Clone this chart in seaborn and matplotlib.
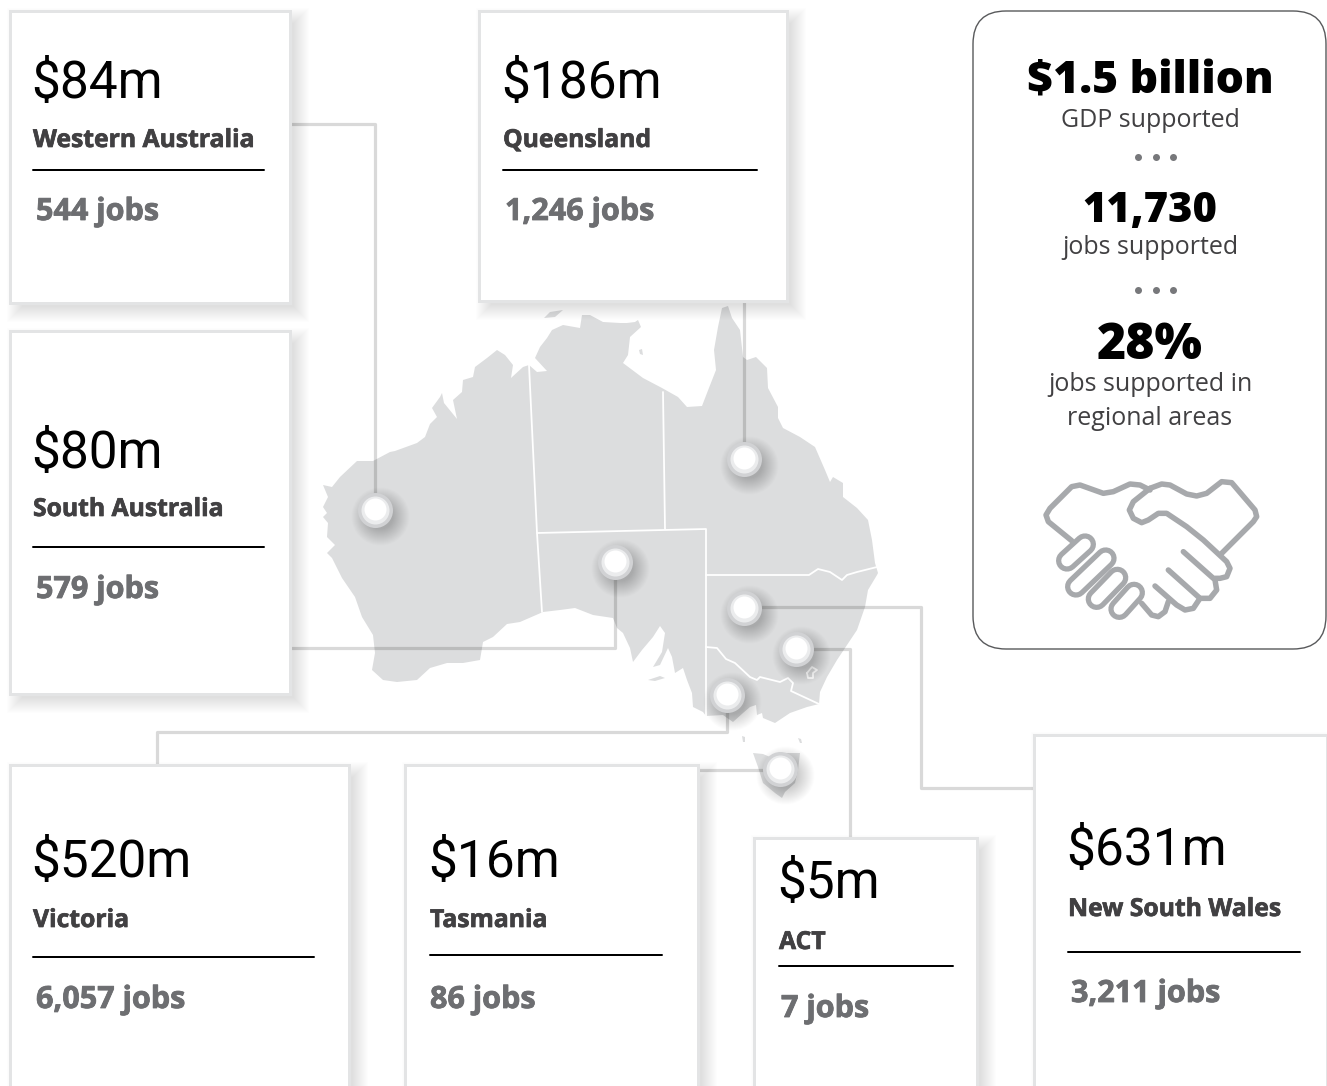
import numpy as np
import pandas as pd
import seaborn as sns
import matplotlib.pyplot as plt
import matplotlib.patheffects as pe
from matplotlib.patches import Rectangle, FancyBboxPatch

# Regional figures
regions = ["Western Australia", "Queensland", "South Australia", "Victoria", "Tasmania", "ACT", "New South Wales"]
gdp_labels = ["$84m", "$186m", "$80m", "$520m", "$16m", "$5m", "$631m"]
job_labels = ["544 jobs", "1,246 jobs", "579 jobs", "6,057 jobs", "86 jobs", "7 jobs", "3,211 jobs"]

# Card boxes (left, top, right, bottom)
card_left = [10, 479, 10, 10, 405, 754, 1034]
card_top = [11, 11, 331, 765, 765, 838, 735]
card_right = [290, 787, 290, 349, 698, 977, 1327]
card_bottom = [303, 301, 694, 1100, 1100, 1100, 1100]

# Text anchors inside the cards
text_x = [31, 501, 31, 31, 428, 777, 1066]
label_x = [33, 503, 33, 33, 430, 779, 1068]
jobs_x = [36, 505, 36, 36, 430, 781, 1071]
gdp_y = [98, 98, 468, 877, 877, 898, 865]
label_y = [147, 147, 516, 927, 927, 949, 916]
rule_y = [170, 170, 547, 957, 955, 966, 952]
rule_end = [264, 757, 264, 314, 662, 953, 1300]
jobs_y = [220, 220, 598, 1008, 1008, 1017, 1002]

# Pins on the map
pin_x = [375, 744, 615, 727, 780, 796, 744]
pin_y = [510, 459, 562, 695, 769, 649, 608]

# Connector routes
link_x = [[291, 375, 375], [744, 744], [290, 615, 615], [727, 727, 157, 157], [779, 698],
          [796, 850, 850], [744, 921, 921, 1033]]
link_y = [[124, 124, 510], [302, 459], [648, 648, 562], [695, 732, 732, 765], [770, 770],
          [649, 649, 838], [607, 607, 788, 788]]

# Summary panel
head_text = ["$1.5 billion", "11,730", "28%"]
head_y = [93, 222, 359]
head_size = [32, 30, 36]
sub_text = ["GDP supported", "jobs supported", "jobs supported in", "regional areas"]
sub_y = [127, 254, 391, 425]
dot_x = [1138, 1156, 1173]
dot_y = [157, 290]

# Map outline
main_x = [332, 340, 357, 373, 390, 395, 417, 425, 430, 437, 432, 440, 442, 444, 457, 453, 462, 463, 473, 475, 487, 497,
          505, 513, 511, 523, 529, 537, 547, 535, 540, 547, 552, 563, 580, 582, 590, 603, 620, 627, 635, 638, 641, 630,
          628, 623, 643, 662, 678, 687, 702, 707, 716, 714, 718, 722, 728, 732, 740, 743, 747, 756, 767, 768, 778, 778,
          783, 800, 815, 825, 830, 833, 843, 843, 857, 868, 872, 875, 878, 877, 868, 865, 857, 847, 837, 827, 820, 819,
          807, 790, 775, 763, 762, 757, 756, 750, 743, 733, 723, 706, 703, 693, 692, 687, 683, 675, 672, 668, 660, 653,
          662, 665, 660, 653, 642, 633, 630, 623, 617, 613, 593, 575, 560, 543, 520, 507, 493, 483, 480, 463, 447, 430,
          417, 397, 383, 372, 375, 373, 362, 355, 342, 332, 327, 335, 327, 328, 323, 327, 323, 328, 323]
main_y = [487, 477, 461, 461, 452, 451, 443, 437, 424, 417, 408, 397, 393, 403, 419, 400, 392, 380, 377, 367, 358, 350,
          355, 365, 378, 367, 365, 372, 371, 358, 347, 338, 330, 325, 328, 315, 315, 322, 323, 323, 322, 320, 327, 337,
          355, 363, 378, 388, 397, 407, 406, 393, 370, 350, 327, 308, 306, 318, 330, 357, 360, 357, 368, 388, 407, 418,
          428, 437, 447, 470, 482, 477, 483, 497, 508, 520, 540, 563, 573, 575, 590, 607, 630, 645, 660, 677, 692, 704,
          707, 713, 723, 718, 713, 715, 705, 707, 713, 722, 715, 716, 712, 707, 693, 680, 668, 673, 657, 648, 665, 667,
          652, 633, 626, 637, 650, 662, 648, 633, 628, 618, 615, 608, 610, 612, 622, 624, 637, 642, 660, 663, 663, 668,
          680, 682, 680, 670, 653, 635, 617, 597, 578, 558, 553, 545, 537, 523, 517, 513, 507, 497, 485]
island_x = [[648, 660, 665, 655], [753, 763, 770, 787, 800, 798, 795, 785, 782, 775, 763, 758],
            [544, 550, 563, 555], [639, 642, 643, 640], [742, 745, 745, 743], [798, 801, 802, 800]]
island_y = [[680, 676, 678, 681], [753, 754, 757, 753, 753, 770, 783, 792, 798, 793, 783, 767],
            [318, 312, 310, 317], [350, 349, 355, 354], [736, 737, 742, 742], [738, 739, 743, 743]]
border_x = [[529, 537, 542], [663, 665], [537, 706, 706],
            [706, 809, 818, 830, 842, 847, 857, 877],
            [706, 717, 726, 735, 750, 757, 760, 780, 788, 793, 791, 819],
            [807, 812, 817, 813, 813, 808, 807]]
border_y = [[365, 533, 612], [392, 529], [533, 529, 716],
            [575, 575, 569, 572, 580, 575, 572, 567],
            [647, 648, 659, 663, 677, 680, 677, 682, 678, 683, 691, 704],
            [673, 667, 670, 673, 678, 678, 673]]

# Handshake icon, in crop units
shake_x = [[125, 55, 48, 60, 125, 150, 220, 250, 300, 330, 360],
           [360, 395, 420, 470, 500, 530, 575, 605, 675, 680, 670, 575],
           [360, 310, 298, 310, 335, 355, 385, 410, 470, 520, 590, 600, 590, 570, 550, 460],
           [415, 510, 540, 560, 555],
           [375, 440, 465, 490, 510],
           [415, 405, 385, 365, 335]]
shake_y = [[212, 155, 135, 115, 50, 45, 70, 65, 42, 45, 60],
           [55, 42, 45, 72, 78, 70, 35, 38, 120, 140, 155, 250],
           [55, 95, 120, 145, 158, 150, 130, 130, 170, 210, 275, 295, 320, 325, 325, 245],
           [300, 385, 385, 360, 330],
           [348, 405, 420, 415, 385],
           [395, 425, 440, 435, 400]]
fist_x = [[111, 165], [138, 227], [200, 262], [268, 312]]
fist_y = [[272, 223], [350, 265], [387, 323], [417, 368]]


def icon_px(x, y):
    return np.array(x) / 3 + 1030, np.array(y) / 3 + 470


def px(v):
    # pixels to points at dpi 100
    return v * 0.72


def path(ax, x, y, color, width, zorder, alpha=1.0):
    df = pd.DataFrame({"x": x, "y": y})
    sns.lineplot(data=df, x="x", y="y", sort=False, estimator=None, color=color, alpha=alpha, linewidth=px(width),
                 zorder=zorder, ax=ax, solid_capstyle="round", solid_joinstyle="round")


sns.set_theme(style="white")
SANS = "Open Sans"
BIG = "Roboto"

fig = plt.figure(figsize=(13.27, 10.86), dpi=100)
ax = fig.add_axes([0, 0, 1, 1])
ax.set_xlim(0, 1327)
ax.set_ylim(1086, 0)
ax.axis("off")

# Map
ax.fill(main_x, main_y, color="#dcddde", lw=0, zorder=1)
for xs, ys in zip(island_x, island_y):
    ax.fill(xs, ys, color="#dcddde", lw=0, zorder=1)
for xs, ys in zip(border_x, border_y):
    path(ax, xs, ys, "white", 1.8, 2)

# Connectors
for xs, ys in zip(link_x, link_y):
    path(ax, xs, ys, "black", 3.2, 3, alpha=0.15)

# Pins with a soft shadow
pins = pd.DataFrame({"x": pin_x, "y": pin_y})
for grow in np.arange(0, 34, 2):
    shadow = pd.DataFrame({"x": pins.x + 5, "y": pins.y + 6})
    sns.scatterplot(data=shadow, x="x", y="y", s=px(26 + grow) ** 2, color="black", alpha=0.01, linewidth=0,
                    zorder=4, ax=ax, legend=False)
sns.scatterplot(data=pins, x="x", y="y", s=px(35) ** 2, color="#d1d2d4", linewidth=0, zorder=5, ax=ax, legend=False)
sns.scatterplot(data=pins, x="x", y="y", s=px(28) ** 2, color="#ebeced", linewidth=0, zorder=6, ax=ax, legend=False)
sns.scatterplot(x=pins.x, y=pins.y - 1, s=px(22) ** 2, color="white", linewidth=0, zorder=7, ax=ax, legend=False)

# Cards
for i in range(len(regions)):
    l, t, r, b = card_left[i], card_top[i], card_right[i], card_bottom[i]
    for grow in range(0, 32, 2):
        ax.add_patch(Rectangle((l + 12 - grow / 2, t + 12 - grow / 2), r - l + grow - 8, b - t + grow - 8, color="black",
                               alpha=0.006, lw=0, zorder=8))
    ax.add_patch(Rectangle((l, t), r - l, b - t, facecolor="white", edgecolor="#e3e4e5", lw=px(3), zorder=9))
    ax.text(text_x[i], gdp_y[i], gdp_labels[i], family=BIG, fontsize=37, color="black", zorder=10)
    label = ax.text(label_x[i], label_y[i], regions[i], family=SANS, fontsize=17.8, weight="bold", color="#414042", zorder=10)
    label.set_path_effects([pe.withStroke(linewidth=0.5, foreground="#414042")])
    ax.plot([label_x[i], rule_end[i]], [rule_y[i], rule_y[i]], color="black", lw=px(2), zorder=10)
    jobs = ax.text(jobs_x[i], jobs_y[i], job_labels[i], family=SANS, fontsize=22, weight="bold", color="#6d6e71", zorder=10)
    jobs.set_path_effects([pe.withStroke(linewidth=0.6, foreground="#6d6e71")])

# Summary panel
ax.add_patch(FancyBboxPatch((973 + 33, 11 + 33), 353 - 66, 638 - 66, boxstyle="round,pad=33,rounding_size=33",
                            facecolor="white", edgecolor="#58595b", lw=1, zorder=8))
for text, y, size in zip(head_text, head_y, head_size):
    ax.text(1150, y, text, family=SANS, fontsize=size, weight="heavy", color="black", ha="center", zorder=10)
for text, y in zip(sub_text, sub_y):
    ax.text(1150, y, text, family=SANS, fontsize=18, color="#414042", ha="center", zorder=10)
for y in dot_y:
    sns.scatterplot(x=dot_x, y=[y] * 3, s=px(7) ** 2, color="#77787b", linewidth=0, zorder=10, ax=ax, legend=False)

# Handshake
for xs, ys in zip(shake_x, shake_y):
    ix, iy = icon_px(xs, ys)
    path(ax, ix, iy, "#a7a9ac", 5.5, 10)
for xs, ys in zip(fist_x, fist_y):
    ix, iy = icon_px(xs, ys)
    path(ax, ix, iy, "#a7a9ac", 22, 10)
for xs, ys in zip(fist_x, fist_y):
    ix, iy = icon_px(xs, ys)
    path(ax, ix, iy, "white", 11.5, 11)

ax.set_xlim(0, 1327)
ax.set_ylim(1086, 0)
ax.set_xlabel("")
ax.set_ylabel("")
fig.savefig("out.png", dpi=100)
